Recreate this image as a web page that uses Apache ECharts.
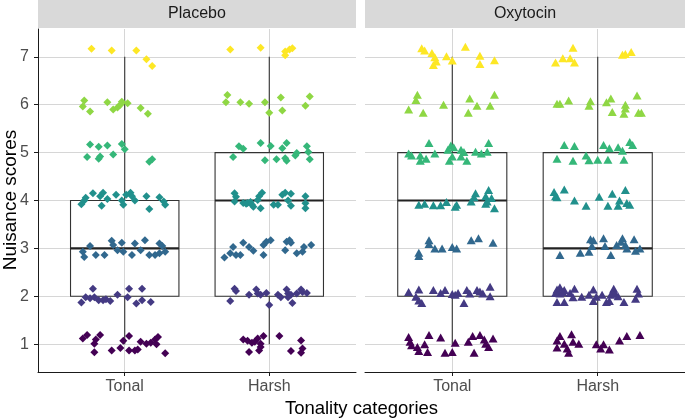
<!DOCTYPE html>
<html>
<head>
<meta charset="utf-8">
<script src="https://cdn.jsdelivr.net/npm/echarts@6/dist/echarts.min.js"></script>
<style>
html,body{margin:0;padding:0;background:#fff;}
#chart{width:685px;height:419px;}
</style>
</head>
<body>
<div id="chart"></div>
<script>
// ---------- data ----------
const panels = ['Placebo', 'Oxytocin'];
const categories = ['Tonal', 'Harsh'];
const yTicks = [1, 2, 3, 4, 5, 6, 7];
const xTitle = 'Tonality categories';
const yTitle = 'Nuisance scores';

// box stats per category: [min, q1, median, q3, max]
const boxPlacebo = [[1, 2, 3, 4, 7], [1, 2, 4, 5, 7]];
const boxOxytocin = [[1, 2, 4, 5, 7], [1, 2, 3, 5, 7]];

// jittered points: [horizontal jitter (category units), jittered score]
const placeboTonal = [
  [-0.23,7.17],[-0.09,7.13],[0.08,7.13],[0.15,6.95],[0.19,6.81],
  [-0.28,6.09],[-0.29,5.96],[-0.24,5.86],[-0.12,6.05],[-0.08,5.9],[-0.05,5.94],[-0.03,6.0],[-0.02,6.06],[0.02,6.03],[0.11,5.93],[0.16,5.81],
  [-0.24,5.17],[-0.18,5.12],[-0.12,5.15],[-0.02,5.18],[0,5.07],[-0.26,4.91],[-0.18,4.87],[-0.17,4.92],[-0.08,4.96],[0.17,4.81],[0.19,4.86],
  [-0.30,3.92],[-0.28,4.0],[-0.27,4.06],[-0.22,4.15],[-0.17,4.09],[-0.15,4.16],[-0.16,3.89],[-0.12,4.03],[-0.06,4.12],[-0.02,4.0],[-0.01,3.91],[0.01,4.12],[0.04,4.16],[0.05,4.09],[0.07,4.0],[0.15,4.09],[0.17,3.82],[0.24,4.07],[0.27,3.98],[0.28,3.91],
  [-0.29,2.93],[-0.28,2.82],[-0.24,3.05],[-0.2,2.86],[-0.14,2.86],[-0.09,3.16],[-0.08,3.07],[-0.05,2.96],[-0.02,3.12],[-0.01,2.93],[0.05,2.86],[0.07,3.1],[0.11,2.96],[0.14,3.17],[0.17,2.86],[0.21,2.86],[0.24,3.1],[0.26,3.05],[0.24,2.9],[0.28,2.93],
  [-0.22,2.16],[-0.3,1.87],[-0.27,1.98],[-0.24,1.96],[-0.21,1.98],[-0.18,1.92],[-0.15,1.92],[-0.13,1.94],[-0.10,1.9],[-0.05,2.03],[0.02,1.98],[0.03,2.16],[0.08,1.85],[0.12,2.16],[0.12,1.92],[0.18,1.88],
  [-0.29,1.12],[-0.26,1.19],[-0.21,1.01],[-0.2,1.1],[-0.17,1.19],[-0.21,0.83],[-0.09,0.87],[-0.03,0.92],[-0.01,1.07],[0.03,1.17],[0.03,0.87],[0.07,0.87],[0.09,0.89],[0.11,1.05],[0.15,1.01],[0.18,1.03],[0.21,1.1],[0.23,1.15],[0.22,1.0],[0.28,0.81]
];
const placeboHarsh = [
  [-0.27,7.15],[-0.06,7.19],[0.11,7.11],[0.11,7.03],[0.14,7.15],[0.16,7.18],
  [-0.29,6.2],[-0.30,6.05],[-0.2,6.05],[-0.14,6.02],[-0.03,6.05],[0,5.83],[0.08,6.15],[0.09,5.88],[0.25,5.98],[0.28,6.17],
  [-0.21,5.13],[-0.18,5.08],[-0.06,5.2],[0.01,5.14],[0.09,5.09],[0.12,5.2],[-0.25,4.91],[-0.03,4.84],[0.05,4.86],[0.11,4.88],[0.12,4.83],[0.18,4.94],[0.19,4.99],[0.26,5.13],[0.27,5.01],[0.28,4.86],
  [-0.24,4.15],[-0.23,4.08],[-0.24,3.98],[-0.18,3.95],[-0.15,3.95],[-0.12,3.91],[-0.11,3.87],[-0.07,4.09],[-0.05,4.16],[-0.08,4.01],[-0.06,3.84],[0.03,3.91],[0.06,3.91],[0.09,4.12],[0.11,4.16],[0.15,4.14],[0.13,4.0],[0.15,3.89],[0.25,4.09],[0.25,3.94],[0.25,3.84],[-0.16,3.93],[-0.13,3.97],
  [-0.31,2.81],[-0.27,2.9],[-0.25,3.03],[-0.23,2.86],[-0.2,2.86],[-0.18,3.12],[-0.14,3.03],[-0.11,2.95],[-0.04,2.86],[-0.04,3.07],[-0.02,3.14],[0.01,3.17],[0.11,2.96],[0.12,3.14],[0.14,3.17],[0.15,3.12],[0.19,2.9],[0.23,2.93],[0.24,3.03],[0.29,3.07],
  [-0.24,2.16],[-0.23,2.11],[-0.27,1.9],[-0.14,2.03],[-0.09,2.14],[-0.08,2.06],[-0.06,2.03],[-0.02,2.07],[0,1.82],[0.06,2.03],[0.08,1.98],[0.12,2.14],[0.13,2.06],[0.15,2.03],[0.13,1.98],[0.16,1.86],[0.19,2.06],[0.22,2.14],[0.23,2.09],[0.26,2.07],
  [-0.18,1.1],[-0.15,1.07],[-0.12,1.03],[-0.14,0.84],[-0.10,1.05],[-0.08,1.12],[-0.06,1.01],[-0.06,0.94],[-0.04,1.17],[-0.07,0.87],[0.07,1.17],[0.15,0.86],[0.22,1.08],[0.23,0.91],[0.22,0.82]
];
const oxytocinTonal = [
  [-0.21,7.18],[-0.19,7.13],[-0.14,7.08],[-0.12,6.99],[-0.11,6.9],[-0.13,6.83],[-0.04,7.01],[0,6.92],[0.09,7.21],[0.19,7.02],[0.19,6.85],[0.29,6.93],
  [-0.24,6.21],[-0.25,6.1],[-0.3,5.9],[-0.2,5.83],[-0.06,6.0],[0.12,6.13],[0.17,5.98],[0.11,5.83],[0.26,5.98],[0.29,6.21],
  [-0.16,5.2],[-0.3,4.98],[-0.28,4.94],[-0.22,4.94],[-0.22,4.83],[-0.18,4.87],[-0.12,4.98],[-0.03,5.06],[-0.01,5.15],[0.01,5.11],[-0.02,4.83],[0,4.92],[0.06,5.06],[0.08,5.01],[0.06,4.92],[0.1,4.83],[0.16,5.02],[0.2,4.98],[0.24,5.02],[0.25,5.2],
  [-0.23,3.91],[-0.19,3.93],[-0.13,3.9],[-0.08,3.9],[-0.04,3.97],[0.02,3.87],[0.03,3.91],[0.13,3.98],[0.16,4.15],[0.15,4.07],[0.23,4.09],[0.25,4.22],[0.24,3.98],[0.27,4.05],[0.29,3.84],[0.23,3.93],
  [-0.23,2.91],[-0.23,2.84],[-0.16,3.17],[-0.16,3.09],[-0.12,3.0],[-0.07,3.0],[0,3.03],[0.03,3.0],[0.13,3.17],[0.18,3.21],[0.28,3.12],
  [-0.3,2.09],[-0.23,2.14],[-0.25,1.99],[-0.23,1.91],[-0.21,1.86],[-0.13,2.13],[-0.08,2.07],[-0.05,2.13],[0,2.05],[0.04,2.07],[0.08,1.86],[0.1,2.13],[0.17,2.13],[0.21,2.06],[0.26,2.2],[0.26,2.0],[0.02,2.03],[0.19,2.1],[0.12,2.06],
  [-0.3,1.15],[-0.29,1.05],[-0.28,0.98],[-0.24,0.94],[-0.23,0.86],[-0.19,1.0],[-0.17,0.84],[-0.16,1.19],[-0.08,1.14],[-0.05,0.82],[0,0.84],[0.02,1.03],[0.11,1.05],[0.14,1.17],[0.15,0.82],[0.19,1.19],[0.22,1.1],[0.23,1.01],[0.25,0.94],[0.28,1.12]
];
const oxytocinHarsh = [
  [-0.17,7.19],[-0.24,6.97],[-0.19,6.97],[-0.29,6.88],[-0.16,6.88],[0.17,7.04],[0.19,7.06],[0.23,7.1],
  [-0.28,6.02],[-0.26,6.02],[-0.2,6.09],[-0.06,5.98],[-0.05,6.07],[0.06,6.05],[0.09,6.13],[0.1,5.85],[0.18,5.81],[0.19,5.92],[0.19,6.0],[0.27,6.19],[0.28,5.83],[0.3,5.83],
  [-0.23,5.16],[-0.16,5.14],[-0.28,4.87],[-0.17,4.83],[-0.08,4.94],[-0.06,4.84],[0,4.85],[0.07,4.85],[0.04,5.16],[0.08,5.09],[0.14,5.11],[0.17,5.04],[0.18,4.85],[0.22,5.22],[0.24,5.16],
  [-0.3,4.18],[-0.29,4.09],[-0.28,4.07],[-0.23,4.23],[-0.16,4.0],[-0.08,3.89],[0.01,4.08],[0.07,3.89],[0.1,4.14],[0.14,3.89],[0.15,4.0],[0.19,4.22],[0.2,3.95],[0.22,3.91],
  [-0.26,2.86],[-0.12,2.91],[-0.06,2.93],[-0.05,3.19],[-0.03,3.17],[-0.04,3.05],[0.04,3.21],[0.05,3.05],[0.09,2.86],[0.13,3.07],[0.16,3.14],[0.17,3.21],[0.19,3.07],[0.2,3.0],[0.25,3.19],[0.26,2.95],[0.29,3.0],
  [-0.28,2.14],[-0.26,2.19],[-0.23,2.13],[-0.26,2.06],[-0.29,2.07],[-0.24,2.09],[-0.28,1.88],[-0.23,1.88],[-0.19,2.07],[-0.16,2.16],[-0.17,1.98],[-0.11,1.99],[-0.06,2.03],[-0.03,2.14],[-0.03,1.9],[-0.01,1.99],[0.03,2.03],[0.06,1.88],[0.08,1.9],[0.09,2.03],[0.11,2.16],[0.1,2.06],[0.12,2.06],[0.14,2.0],[0.18,1.88],[0.26,1.95],[0.27,2.16],[0.28,2.06],
  [-0.26,1.17],[-0.28,1.08],[-0.28,0.93],[-0.23,1.01],[-0.21,0.91],[-0.2,0.82],[-0.18,1.21],[-0.17,1.05],[-0.13,1.01],[-0.01,1.0],[0.02,0.91],[0.04,1.0],[0.08,0.89],[0.15,1.08],[0.2,1.17],[0.29,1.19]
];

// viridis colours for scores 1..7
const viridis = ['#440154', '#443A83', '#31688E', '#21908C', '#35B779', '#8FD744', '#FDE725'];

// ---------- layout ----------
const FONT = '"Liberation Sans", Arial, sans-serif';
const grids = [
  { left: 38, top: 29, width: 318, height: 343 },
  { left: 365, top: 29, width: 320, height: 343 }
];
const STRIP_H = 28;
const GRID_COLOR = '#d6d6d6';
const AXIS_COLOR = '#1a1a1a';

const chart = echarts.init(document.getElementById('chart'), null, { renderer: 'canvas' });

function xAxisFor(i) {
  return {
    type: 'value', gridIndex: i, min: 0.4, max: 2.6,
    axisLine: { show: true, onZero: false, lineStyle: { color: AXIS_COLOR, width: 1 } },
    axisTick: { show: true, length: 4, customValues: [1, 2], lineStyle: { color: AXIS_COLOR } },
    axisLabel: {
      show: true, customValues: [1, 2], margin: 7,
      color: '#4d4d4d', fontSize: 16, fontFamily: FONT,
      formatter: v => categories[Math.round(v) - 1] || ''
    },
    splitLine: { show: true, lineStyle: { color: GRID_COLOR, width: 1 } }
  };
}
function yAxisFor(i) {
  const isLeft = i === 0;
  return {
    type: 'value', gridIndex: i, min: 0.42, max: 7.58,
    axisLine: { show: isLeft, onZero: false, lineStyle: { color: AXIS_COLOR, width: 1 } },
    axisTick: { show: isLeft, length: 4, customValues: yTicks, lineStyle: { color: AXIS_COLOR } },
    axisLabel: {
      show: isLeft, customValues: yTicks, margin: 9,
      color: '#4d4d4d', fontSize: 16, fontFamily: FONT
    },
    splitLine: { show: true, lineStyle: { color: GRID_COLOR, width: 1 } }
  };
}

function boxSeries(i, stats) {
  return {
    type: 'custom', xAxisIndex: i, yAxisIndex: i, z: 2, silent: true,
    data: stats.map((s, k) => [k + 1].concat(s)),
    renderItem: function (params, api) {
      const x = api.value(0);
      const mn = api.value(1), q1 = api.value(2), md = api.value(3), q3 = api.value(4), mx = api.value(5);
      const hw = 0.375;
      const tl = api.coord([x - hw, q3]);
      const br = api.coord([x + hw, q1]);
      const mL = api.coord([x - hw, md]);
      const mR = api.coord([x + hw, md]);
      const cTop = api.coord([x, q3]);
      const cMax = api.coord([x, mx]);
      const cBot = api.coord([x, q1]);
      const cMin = api.coord([x, mn]);
      const st = { stroke: '#333333', lineWidth: 1.1, fill: null };
      return {
        type: 'group',
        children: [
          { type: 'line', shape: { x1: cTop[0], y1: cTop[1], x2: cMax[0], y2: cMax[1] }, style: st },
          { type: 'line', shape: { x1: cBot[0], y1: cBot[1], x2: cMin[0], y2: cMin[1] }, style: st },
          { type: 'rect', shape: { x: tl[0], y: tl[1], width: br[0] - tl[0], height: br[1] - tl[1] }, style: st },
          { type: 'line', shape: { x1: mL[0], y1: mL[1], x2: mR[0], y2: mR[1] }, style: { stroke: '#222222', lineWidth: 2.2 } }
        ]
      };
    }
  };
}

function pointSeries(i, catIndex, pts, symbol, size) {
  return {
    type: 'scatter', xAxisIndex: i, yAxisIndex: i, z: 3, silent: true,
    symbol: symbol, symbolSize: size,
    data: pts.map(p => ({
      value: [catIndex + p[0], p[1]],
      itemStyle: { color: viridis[Math.min(7, Math.max(1, Math.round(p[1]))) - 1], opacity: 1 }
    }))
  };
}

const graphics = [];
grids.forEach((g, i) => {
  graphics.push({
    type: 'rect', left: g.left, top: 0, silent: true,
    shape: { width: g.width, height: STRIP_H },
    style: { fill: '#d9d9d9' }
  });
  graphics.push({
    type: 'text', x: g.left + g.width / 2, y: STRIP_H / 2, silent: true,
    style: { text: panels[i], fill: '#1a1a1a', font: '16px ' + FONT, textAlign: 'center', textVerticalAlign: 'middle' }
  });
});
graphics.push({
  type: 'text', x: (grids[0].left + grids[1].left + grids[1].width) / 2, y: 409, silent: true,
  style: { text: xTitle, fill: '#000', font: '18.5px ' + FONT, textAlign: 'center', textVerticalAlign: 'middle' }
});
graphics.push({
  type: 'text', x: 11, y: 200, rotation: Math.PI / 2, silent: true,
  style: { text: yTitle, fill: '#000', font: '19px ' + FONT, textAlign: 'center', textVerticalAlign: 'middle' }
});

const option = {
  animation: false,
  backgroundColor: '#ffffff',
  grid: grids.map(g => Object.assign({ containLabel: false }, g)),
  xAxis: [xAxisFor(0), xAxisFor(1)],
  yAxis: [yAxisFor(0), yAxisFor(1)],
  series: [
    boxSeries(0, boxPlacebo),
    boxSeries(1, boxOxytocin),
    pointSeries(0, 1, placeboTonal, 'diamond', 8),
    pointSeries(0, 2, placeboHarsh, 'diamond', 8),
    pointSeries(1, 1, oxytocinTonal, 'triangle', [9, 8]),
    pointSeries(1, 2, oxytocinHarsh, 'triangle', [9, 8])
  ],
  graphic: graphics
};
chart.setOption(option);
</script>
</body>
</html>
